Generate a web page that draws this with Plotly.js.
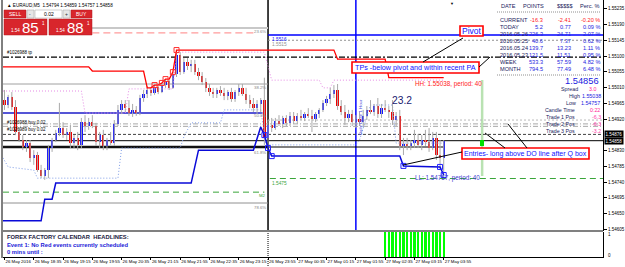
<!DOCTYPE html>
<html><head><meta charset="utf-8">
<script src="https://cdn.plot.ly/plotly-3.0.1.min.js"></script>
<style>html,body{margin:0;padding:0;background:#fff;overflow:hidden}#chart{width:625px;height:267px}</style>
</head><body><div id="chart"></div>
<script>
// ---------------- data ----------------
const timeLabels = ['26 May 2016','26 May 18:35','26 May 19:15','26 May 19:55','26 May 20:35','26 May 21:15','26 May 21:55','26 May 22:35','26 May 23:15','26 May 23:55','27 May 00:35','27 May 01:15','27 May 01:55','27 May 02:35','27 May 03:15','27 May 03:55'];
const timeTickIdx = [0,8,16,24,32,40,48,56,64,72,80,88,96,104,112,120];
const priceTicks = [1.55235,1.55190,1.55145,1.55100,1.55055,1.55010,1.54965,1.54920,1.54830,1.54785,1.54740,1.54695,1.54650,1.54605];

const open = [
1.54974,1.54960,1.54983,1.54954,1.54883,1.54860,1.54840,1.54851,1.54809,1.54817,
1.54774,1.54757,1.54774,1.54837,1.54860,1.54880,1.54894,1.54874,1.54883,1.54851,
1.54866,1.54846,1.54911,1.54900,1.54911,1.54900,1.54854,1.54874,1.54843,1.54860,
1.54851,1.54906,1.54946,1.54963,1.54951,1.54937,1.54946,1.54937,1.54980,1.54991,
1.55003,1.54994,1.55011,1.54997,1.55017,1.55029,1.55009,1.55049,1.55103,1.55054,
1.55083,1.55071,1.55077,1.55054,1.55043,1.55026,1.55009,1.54997,1.54991,1.55003,
1.54994,1.54986,1.54997,1.54977,1.54997,1.55009,1.54991,1.54974,1.54963,1.54951,
1.54963,1.54974,1.54866,1.54903,1.54894,1.54914,1.54906,1.54923,1.54909,1.54929,
1.54914,1.54929,1.54923,1.54934,1.54929,1.54920,1.54934,1.54946,1.54966,1.54977,
1.54991,1.55003,1.54957,1.54940,1.54923,1.54934,1.54911,1.54920,1.54911,1.54929,
1.54946,1.54940,1.54957,1.54934,1.54951,1.54946,1.54940,1.54917,1.54929,1.54843,
1.54849,1.54843,1.54851,1.54860,1.54846,1.54860,1.54854,1.54837,1.54866,1.54817,
1.54809];
const high = [
1.55003,1.54989,1.54997,1.54974,1.54894,1.54874,1.54860,1.54860,1.54831,1.54826,
1.54789,1.54780,1.54846,1.54866,1.54889,1.54966,1.54911,1.54894,1.54903,1.54874,
1.54883,1.54923,1.54931,1.54923,1.54931,1.54909,1.54883,1.54889,1.54866,1.54883,
1.54917,1.54960,1.54974,1.54974,1.54974,1.54963,1.54957,1.54989,1.55003,1.55014,
1.55009,1.55017,1.55014,1.55023,1.55034,1.55031,1.55054,1.55117,1.55111,1.55094,
1.55094,1.55089,1.55089,1.55066,1.55054,1.55037,1.55020,1.55009,1.55009,1.55014,
1.55009,1.55003,1.55009,1.55003,1.55020,1.55020,1.55009,1.54989,1.54980,1.54974,
1.54980,1.55038,1.54917,1.54923,1.54923,1.54931,1.54929,1.54931,1.54940,1.54940,
1.54937,1.54946,1.54940,1.54951,1.54946,1.54940,1.54951,1.54974,1.54986,1.55009,
1.55017,1.55020,1.54974,1.54960,1.54946,1.54946,1.54931,1.54940,1.54946,1.54957,
1.54974,1.54963,1.54980,1.54963,1.54974,1.54957,1.54974,1.54940,1.54946,1.54866,
1.54866,1.54860,1.54889,1.54877,1.54874,1.54889,1.54894,1.54883,1.54883,1.54860,
1.54860];
const low = [
1.54946,1.54951,1.54946,1.54874,1.54854,1.54831,1.54826,1.54797,1.54789,1.54769,
1.54751,1.54746,1.54751,1.54826,1.54854,1.54871,1.54866,1.54860,1.54837,1.54837,
1.54831,1.54837,1.54883,1.54889,1.54894,1.54843,1.54837,1.54831,1.54831,1.54846,
1.54843,1.54900,1.54934,1.54940,1.54929,1.54926,1.54929,1.54931,1.54969,1.54980,
1.54986,1.54989,1.54991,1.54994,1.55009,1.55003,1.55006,1.55040,1.55046,1.55049,
1.55060,1.55054,1.55046,1.55031,1.55017,1.54997,1.54986,1.54980,1.54980,1.54986,
1.54974,1.54974,1.54969,1.54969,1.54986,1.54986,1.54963,1.54951,1.54940,1.54934,
1.54940,1.54846,1.54831,1.54883,1.54889,1.54900,1.54894,1.54900,1.54900,1.54906,
1.54906,1.54917,1.54914,1.54923,1.54883,1.54911,1.54923,1.54940,1.54957,1.54963,
1.54980,1.54946,1.54931,1.54903,1.54911,1.54900,1.54894,1.54900,1.54900,1.54917,
1.54934,1.54929,1.54923,1.54923,1.54940,1.54923,1.54903,1.54900,1.54831,1.54817,
1.54831,1.54831,1.54837,1.54837,1.54831,1.54843,1.54826,1.54831,1.54803,1.54774,
1.54757];
const close = [
1.54960,1.54983,1.54954,1.54883,1.54860,1.54840,1.54851,1.54809,1.54817,1.54774,
1.54757,1.54774,1.54837,1.54860,1.54880,1.54894,1.54874,1.54883,1.54851,1.54866,
1.54846,1.54911,1.54900,1.54911,1.54900,1.54854,1.54874,1.54843,1.54860,1.54851,
1.54906,1.54946,1.54963,1.54951,1.54937,1.54946,1.54937,1.54980,1.54991,1.55003,
1.54994,1.55011,1.54997,1.55017,1.55029,1.55009,1.55049,1.55103,1.55054,1.55083,
1.55071,1.55077,1.55054,1.55043,1.55026,1.55009,1.54997,1.54991,1.55003,1.54994,
1.54986,1.54997,1.54977,1.54997,1.55009,1.54991,1.54974,1.54963,1.54951,1.54963,
1.54974,1.54866,1.54903,1.54894,1.54914,1.54906,1.54923,1.54909,1.54929,1.54914,
1.54929,1.54923,1.54934,1.54929,1.54920,1.54934,1.54946,1.54966,1.54977,1.54991,
1.55003,1.54957,1.54940,1.54923,1.54934,1.54911,1.54920,1.54911,1.54929,1.54946,
1.54940,1.54957,1.54934,1.54951,1.54946,1.54940,1.54917,1.54929,1.54843,1.54849,
1.54843,1.54851,1.54860,1.54846,1.54860,1.54854,1.54837,1.54866,1.54817,1.54809,
1.54856];

// rolling high / low channel lines (period 40)
const hhLineIdx = [-0.41,23,24,38,39,40,41,42,43,44,45,46,47,90,91,104,105,120];
const hhLineVal = [1.55069,1.55069,1.55057,1.55057,1.55009,1.55009,1.55017,1.55017,1.55023,1.55034,1.55034,1.55054,1.55117,1.55117,1.55091,1.55091,1.55038,1.55038];
const llLineIdx = [-0.41,10,11,13,14,51,53,68,70,71,72,73,108,109,119,120];
const llLineVal = [1.54629,1.54629,1.54691,1.54691,1.54737,1.54737,1.54831,1.54831,1.54897,1.54874,1.54837,1.54814,1.54814,1.54786,1.54783,1.54760];
const hiMarkIdx = [41,43,44,46,47];
const hiMarkVal = [1.55017,1.55023,1.55034,1.55054,1.55117];
const loMarkIdx = [71,72,73,109,119,120];
const loMarkVal = [1.54874,1.54837,1.54814,1.54786,1.54783,1.54760];
// dotted envelope lines
const upEnvIdx = [-0.41,21,22,33,34,46,47,71,73,86,87,89,90,120];
const upEnvVal = [1.55000,1.55000,1.54937,1.54937,1.55006,1.55006,1.55111,1.55111,1.55031,1.55031,1.55009,1.55009,1.55031,1.55031];
const dnEnvIdx = [-0.41,1,8,9,31,32,48,49,51,59,60,70,71.5,96,97,100,106,107,120];
const dnEnvVal = [1.54809,1.54783,1.54774,1.54751,1.54751,1.54837,1.54837,1.54869,1.54909,1.54909,1.54946,1.54946,1.54846,1.54846,1.54860,1.54960,1.54960,1.54851,1.54851];

// horizontal levels
const fibTop = 1.55180, fib236 = 1.55166, fib382 = 1.55020, fib500 = 1.54937, fib618 = 1.54840, fib786 = 1.54680;
const m2Level = 1.54711, pivotLevel = 1.55160, pivotAlt = 1.55145, tpLevel = 1.55097;
const resLevel = 1.54917, trade1Level = 1.54906, trade2Level = 1.54899, entryLevel = 1.54876, bidLevel = 1.54858;
const dailyOpen = 1.54840, llLevel = 1.54750;
const dayStartIdx = 72, blueVIdx = 96, greenVIdx = 130.5;

// indicator sub-window
const signalIdx = [104,105,106,107,108,109,110,111,112,113,114,115,116,117,118,119,120];
const signalVal = [1,1,1,1,1,1,1,1,1,1,1,1,1,1,1,1,1];

// info tables
const statRows = ['CURRENT','TODAY','2016.05.26','2016.05.25','2016.05.24','2016.05.23','WEEK','MONTH'];
const statPoints = ['-16.3','5.2','226.3','40.6','139.7','121.5','533.3','794.5'];
const statMoney = ['-2.41','0.77','24.71','7.37','13.23','11.51','57.59','77.49'];
const statPerc = ['-0.20 %','0.09 %','2.07 %','0.62 %','1.11 %','0.95 %','4.82 %','6.48 %'];
const infoLabels = ['Spread','High','Low','Candle Time','Trade 1 Pos','Trade 2 Pos','Trade 3 Pos'];
const infoValues = ['3.0','1.55038','1.54757','0:22','-6.3','-6.3','-3.2'];

// ---------------- drawing ----------------
const F = 'Arial, "Liberation Sans", sans-serif';
const W = 625, H = 267, ML = 3, MR = 22, MT = 0, MB = 10;
const PW = W - ML - MR, PH = H - MT - MB;
const px = x => (x - ML) / PW;
const py = y => 1 - (y - MT) / PH;
const XR = [-0.41, 163.52];
const ann = [], shapes = [];
function T(x, y, text, size, color, anchor, extra) {
  ann.push(Object.assign({xref:'paper', yref:'paper', x:px(x), y:py(y), text:text, showarrow:false,
    xanchor:anchor||'left', yanchor:'middle', font:{family:F, size:size, color:color}}, extra||{}));
}
function R(x0,y0,x1,y1,fill,line,lw){shapes.push({type:'rect',xref:'paper',yref:'paper',x0:px(x0),x1:px(x1),y0:py(y0),y1:py(y1),fillcolor:fill,line:{color:line||fill,width:lw||0},layer:'above'});}
function Lp(x0,y0,x1,y1,color,w,dash,layer){shapes.push({type:'line',xref:'paper',yref:'paper',x0:px(x0),x1:px(x1),y0:py(y0),y1:py(y1),line:{color:color,width:w||1,dash:dash||'solid'},layer:layer||'above'});}
function HL(p,i0,i1,color,w,dash){shapes.push({type:'line',xref:'x',yref:'y',x0:i0,x1:i1,y0:p,y1:p,line:{color:color,width:w,dash:dash||'solid'},layer:'below'});}
function VL(i,y0,y1,color,w,dash){shapes.push({type:'line',xref:'x',yref:'paper',x0:i,x1:i,y0:py(y0),y1:py(y1),line:{color:color,width:w,dash:dash||'solid'},layer:'below'});}

// levels
HL(fibTop, 23.6, dayStartIdx, '#c8c8c8', 2);
HL(fib236, 24, 68.5, '#ff9c9c', 1.3, '7px,4px');
HL(fib382, XR[0], dayStartIdx, '#a0a0a0', 1);
HL(fib500, XR[0], 70.5, '#1c1cc8', 1.5);
HL(fib618, XR[0], dayStartIdx, '#111', 2.5);
HL(fib786, XR[0], dayStartIdx, '#909090', 1);
HL(m2Level, XR[0], 71, '#3aa53a', 1, '6px,4px');
HL(pivotLevel, dayStartIdx, XR[1], '#0000ff', 1.5);
HL(pivotAlt, dayStartIdx, XR[1], '#909090', 1, '2px,2px');
HL(tpLevel, XR[0], XR[1], '#000', 1.2, '6px,2px,2px,2px');
HL(resLevel, dayStartIdx, XR[1], '#b8b8b8', 1, '2px,2px');
HL(trade1Level, XR[0], 163, '#a8a8a8', 1, '5px,2px,1px,2px');
HL(trade2Level, XR[0], 163, '#a8a8a8', 1, '5px,2px,1px,2px');
HL(entryLevel, XR[0], XR[1], '#404040', 1, '3px,2px');
HL(bidLevel, XR[0], XR[1], '#000', 1);
HL(dailyOpen, dayStartIdx, 120, '#000', 1);
HL(llLevel, dayStartIdx + 0.5, XR[1], '#3aa53a', 1, '6px,4px');

// vertical lines
VL(dayStartIdx, 0, 231, '#000', 1.5);
VL(dayStartIdx, 231, 266, '#000', 1, '1px,1px');
VL(blueVIdx, 0, 231, '#0000ff', 1.5);
VL(greenVIdx, 80, 176, '#b9e2b2', 2.5);

// frame
Lp(2, 0, 2, 258, '#000', 1);
Lp(3, 231, 603, 231, '#808080', 2);

// candle traces
const n = Math.min(open.length, high.length, low.length, close.length);
const wx = [], wy = [], bx = [], bb = [], bh = [], bc = [];
for (let i = 0; i < n; i++) {
  wx.push(i, i, null); wy.push(low[i], high[i], null);
  bx.push(i); bb.push(Math.min(open[i], close[i]));
  bh.push(Math.max(Math.abs(close[i] - open[i]), 0.000012));
  bc.push(close[i] >= open[i] ? '#1414ff' : '#f00000');
}
const traces = [
  {type:'scatter', mode:'lines', x:upEnvIdx, y:upEnvVal, line:{color:'#e58ae5', width:1, dash:'1px,2px'}, hoverinfo:'skip'},
  {type:'scatter', mode:'lines', x:dnEnvIdx, y:dnEnvVal, line:{color:'#7d9be6', width:1, dash:'1px,2px'}, hoverinfo:'skip'},
  {type:'scatter', mode:'lines', x:wx, y:wy, line:{color:'#a9a9a9', width:1}, hoverinfo:'skip', connectgaps:false},
  {type:'bar', x:bx, base:bb, y:bh, width:0.62, marker:{color:bc, line:{width:0}}, hoverinfo:'skip'},
  {type:'scatter', mode:'lines', x:hhLineIdx, y:hhLineVal, line:{color:'#ff0000', width:1.3}, hoverinfo:'skip'},
  {type:'scatter', mode:'lines', x:llLineIdx, y:llLineVal, line:{color:'#0a0ad8', width:1.5}, hoverinfo:'skip'},
  {type:'scatter', mode:'markers', x:hiMarkIdx, y:hiMarkVal, marker:{symbol:'square-open', size:5, color:'#ff3030', line:{width:1}}, hoverinfo:'skip'},
  {type:'scatter', mode:'markers', x:loMarkIdx, y:loMarkVal, marker:{symbol:'square-open', size:5, color:'#2020ff', line:{width:1}}, hoverinfo:'skip'},
  {type:'bar', x:signalIdx, y:signalVal, yaxis:'y2', width:0.62, marker:{color:'#00ff00', line:{width:0}}, hoverinfo:'skip'}
];

// ---- top-left trade panel ----
T(5, 5, '\u25B2 EURAUD,M5  1.54794 1.54859 1.54757 1.54858', 4.6, '#000');
R(4,10,26,18,'#d8262c','#b01a1f',0.5); T(15,14,'SELL',5,'#fff','center');
R(27,10,34,18,'#e6e6e6','#a0a0a0',0.5); T(30.5,14,'-',5,'#333','center');
R(35,10,62,18,'#ffffff','#a0a0a0',0.5); T(48.5,14,'0.02',5,'#000','center');
R(63,10,70,18,'#e6e6e6','#a0a0a0',0.5); T(66.5,14,'+',5,'#333','center');
R(71,10,92,18,'#d8262c','#b01a1f',0.5); T(81.5,14,'BUY',5,'#fff','center');
R(4,19,47,35,'#d8262c','#b01a1f',0.5); R(49,19,92,35,'#d8262c','#b01a1f',0.5);
T(9,30,'1.54',4.5,'#fff'); T(30.5,27.5,'85',15,'#fff','center'); T(39.5,23,'1',4.5,'#fff');
T(54,30,'1.54',4.5,'#fff'); T(75.5,27.5,'88',15,'#fff','center'); T(84.5,23,'1',4.5,'#fff');

// ---- fib / level labels ----
T(268,31,'23.6%',4.3,'#888','right');
T(268,87,'38.2%',4.3,'#888','right');
T(268,116,'50.0%',4.3,'#888','right');
T(268,152,'61.8%',4.3,'#888','right');
T(268,195,'M2',4.3,'#3aa53a','right');
T(268,207,'78.6%',4.3,'#888','right');
T(270,39,'1.5516',4.8,'#2020ff');
T(270,44,'1.5515',4.8,'#909090');
T(270,183,'1.5475',4.8,'#3aa53a');
T(5,53,'#1026988 tp',4.5,'#000');
T(5,122,'#1026988 buy 0.02',4.5,'#000');
T(5,129,'#1026989 buy 0.02',4.5,'#000');
T(452,3.5,'\u25BC',4,'#000','center');
T(361,117,'Daily Open 1 Hour',4.3,'#4a4ad8','center',{textangle:-90});
T(402,101,'23.2',10.3,'#1a1a70','center');
T(413,84,'HH: 1.55038, period: 40',6.3,'#ff1a1a');
T(413,178,'LL: 1.54757, period: 40',6.3,'#4040d0');

// ---- annotation boxes ----
R(460,26,483,36,'#ffffff','#ff0000',1.6); T(471.5,31,'Pivot',8.5,'#1010ff','center');
R(352,62,479,73,'#ffffff','#ff0000',1.6); T(415.5,67.5,'TPs -below pivot and within recent PA',7.2,'#1010ff','center');
R(462,148,589,159,'#ffffff','#ff0000',1.6); T(525.5,153.5,'Entries- long above DO line after Q box',7,'#1010ff','center');
Lp(463,38,423,62,'#000',1);
Lp(479,67,490,57,'#000',1);
Lp(462,152,403,165,'#000',1);
Lp(505,148,485,133,'#000',1);
Lp(527,148,508,124,'#000',1);
R(480,140,484,146,'#00e000','#00e000',0);

// ---- stats table ----
T(499,6,'DATE',5.6,'#1a1a60'); T(546,6,'POINTS',5.6,'#1a1a60','right');
T(575,6,'\u200B$$$$$',5.6,'#1a1a60','right'); T(602,6,'Perc. %',5.6,'#1a1a60','right');
Lp(497,12,601,12,'#909090',1,'1px,1px');
Lp(497,75,601,75,'#909090',1,'1px,1px');
const rowY = [20,27,34,41,48,55,62,69];
for (let r = 0; r < statRows.length; r++) {
  const vc = r === 0 ? '#ff2020' : '#2424e0';
  T(498,rowY[r],statRows[r],5.6,'#1a1a60');
  T(545,rowY[r],statPoints[r],5.6,vc,'right');
  T(573,rowY[r],statMoney[r],5.6,vc,'right');
  T(602,rowY[r],statPerc[r],5.6,vc,'right');
}
T(601,81,'1.54856',9.3,'#1a1ae0','right');
const infoY = [89,96,103,109.5,117,124,130.5];
const infoLx = [580,582,578,577,577,577,577];
const infoRx = [598,603,602,602,603,603,603];
const infoC = ['#ff1e96','#1a1ae0','#1a1ae0','#ff1e96','#ff3cac','#ff3cac','#ff3cac'];
for (let r = 0; r < infoLabels.length; r++) {
  T(infoLx[r],infoY[r],infoLabels[r],5.3,'#1a1a60','right');
  T(infoRx[r],infoY[r],infoValues[r],5.3,infoC[r],'right');
}
// price highlight tags
T(603.5,134.4,'1.54876',4.5,'#fff','left',{bgcolor:'#000',borderpad:0.5});
T(603.5,140.7,'1.54858',4.5,'#fff','left',{bgcolor:'#000',borderpad:0.5});

// ---- sub window ----
T(5,237,'<b>FOREX FACTORY CALENDAR  HEADLINES:</b>',5.8,'#1a1a40');
T(5,244.5,'<b>Event 1: No Red events currently scheduled</b>',5.8,'#1a1ad8');
T(5,252,'<b>0 mins until :</b>',5.8,'#1a1ad8');
T(606,234,'1',4.5,'#000');
T(606,255,'0',4.5,'#000');

const layout = {
  width:W, height:H, margin:{l:ML,r:MR,t:MT,b:MB,pad:0},
  paper_bgcolor:'#fff', plot_bgcolor:'#fff', showlegend:false, barmode:'overlay', bargap:0,
  font:{family:F, size:5, color:'#000'},
  xaxis:{range:XR, anchor:'y2', showgrid:false, zeroline:false, showline:true, linecolor:'#000', linewidth:1,
    tickmode:'array', tickvals:timeTickIdx, ticktext:timeLabels, ticks:'outside', ticklen:2, tickcolor:'#000',
    tickangle:0, ticklabelposition:'outside right', automargin:false, tickfont:{family:F,size:4.4,color:'#000'}},
  yaxis:{domain:[1-231/PH,1], range:[1.54600,1.55260], side:'right', anchor:'x', showgrid:false, zeroline:false,
    showline:true, linecolor:'#000', linewidth:1, tickmode:'array', tickvals:priceTicks,
    ticktext:priceTicks.map(v=>v.toFixed(5)), ticks:'outside', ticklen:3, tickcolor:'#000', automargin:false,
    tickfont:{family:F,size:4.5,color:'#000'}},
  yaxis2:{domain:[0,1-232/PH], range:[0,1], side:'right', anchor:'x', showgrid:false, zeroline:false,
    showline:true, linecolor:'#000', linewidth:1, showticklabels:false, ticks:''},
  shapes:shapes, annotations:ann
};
Plotly.newPlot('chart', traces, layout, {staticPlot:true, displayModeBar:false});
</script></body></html>
